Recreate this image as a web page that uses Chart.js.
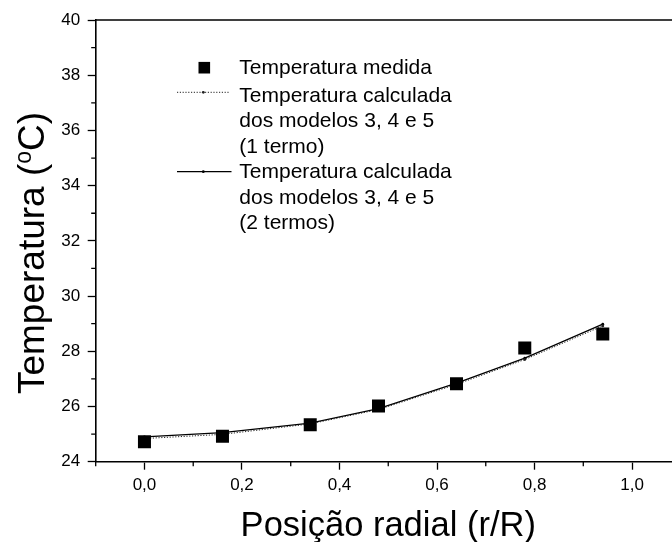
<!DOCTYPE html>
<html>
<head>
<meta charset="utf-8">
<script src="https://cdn.jsdelivr.net/npm/chart.js@4/dist/chart.umd.min.js"></script>
<style>
  html, body { margin: 0; padding: 0; overflow: hidden; background: #fff; width: 672px; height: 542px; }
  canvas { display: block; }
</style>
</head>
<body>
<canvas id="grafico" width="690" height="542"></canvas>
<script>
// Posição radial adimensional (r/R) e temperaturas (°C)
const posicao = [0, 0.16, 0.34, 0.48, 0.64, 0.78, 0.94];
const tempMedida = [24.72, 24.92, 25.34, 26.02, 26.82, 28.12, 28.63];
const tempCalc1Termo = [24.84, 24.99, 25.37, 25.89, 26.80, 27.70, 28.92];
const tempCalc2Termos = [24.90, 25.05, 25.40, 25.92, 26.85, 27.75, 28.98];

// Marcas dos eixos
const xTicksMaiores = [0, 0.2, 0.4, 0.6, 0.8, 1.0];
const xTicksMenores = [-0.1, 0.1, 0.3, 0.5, 0.7, 0.9, 1.1];
const xRotulos = ['0,0', '0,2', '0,4', '0,6', '0,8', '1,0'];
const yTicksMaiores = [24, 26, 28, 30, 32, 34, 36, 38, 40];
const yTicksMenores = [25, 27, 29, 31, 33, 35, 37, 39];
const yRotulos = ['24', '26', '28', '30', '32', '34', '36', '38', '40'];

// Textos da legenda
const legendaMedida = ['Temperatura medida'];
const legenda1Termo = ['Temperatura calculada', 'dos modelos 3, 4 e 5', '(1 termo)'];
const legenda2Termos = ['Temperatura calculada', 'dos modelos 3, 4 e 5', '(2 termos)'];

const FONTE = '"Liberation Sans", Arial, Helvetica, sans-serif';

const pares = ys => posicao.map((x, i) => ({ x: x, y: ys[i] }));

// Marcas menores, linha superior do quadro, títulos dos eixos e legenda
const decoracao = {
  id: 'decoracao',
  afterDraw(chart) {
    const ctx = chart.ctx;
    const area = chart.chartArea;
    const sx = chart.scales.x, sy = chart.scales.y;
    ctx.save();
    ctx.strokeStyle = '#000';

    // quadro superior e direito
    ctx.lineWidth = 1.6;
    ctx.beginPath();
    ctx.moveTo(area.left, area.top);
    ctx.lineTo(area.right, area.top);
    ctx.lineTo(area.right, area.bottom);
    ctx.stroke();

    // marcas menores
    ctx.lineWidth = 1.3;
    ctx.beginPath();
    xTicksMenores.forEach(v => {
      const px = sx.getPixelForValue(v);
      ctx.moveTo(px, area.bottom);
      ctx.lineTo(px, area.bottom + 4.5);
    });
    yTicksMenores.forEach(v => {
      const py = sy.getPixelForValue(v);
      ctx.moveTo(area.left, py);
      ctx.lineTo(area.left - 4.5, py);
    });
    ctx.stroke();

    // título do eixo x
    ctx.fillStyle = '#000';
    ctx.font = '34.5px ' + FONTE;
    ctx.textAlign = 'center';
    ctx.textBaseline = 'alphabetic';
    ctx.fillText('Posição radial (r/R)', (area.left + area.right) / 2, 535.5);

    // título do eixo y, com "o" sobrescrito
    const p1 = 'Temperatura (', sup = 'o', p2 = 'C)';
    ctx.font = '37px ' + FONTE;
    const w1 = ctx.measureText(p1).width, w3 = ctx.measureText(p2).width;
    ctx.font = '23px ' + FONTE;
    const w2 = ctx.measureText(sup).width;
    const total = w1 + w2 + w3;
    ctx.translate(43.5, 253);
    ctx.rotate(-Math.PI / 2);
    ctx.textAlign = 'left';
    let cx = -total / 2;
    ctx.font = '37px ' + FONTE;
    ctx.fillText(p1, cx, 0); cx += w1;
    ctx.font = '23px ' + FONTE;
    ctx.fillText(sup, cx, -13); cx += w2;
    ctx.font = '37px ' + FONTE;
    ctx.fillText(p2, cx, 0);
    ctx.restore();

    // legenda
    ctx.save();
    const ds = chart.data.datasets;
    ctx.fillStyle = '#000';
    ctx.fillRect(204.3 - 5.8, 67.7 - 5.8, 11.6, 11.6);

    const amostra = (d, y, x0, x1) => {
      ctx.strokeStyle = d.borderColor;
      ctx.lineWidth = d.borderWidth;
      ctx.setLineDash(d.borderDash || []);
      ctx.beginPath();
      ctx.moveTo(x0, y);
      ctx.lineTo(x1, y);
      ctx.stroke();
      ctx.setLineDash([]);
      ctx.fillStyle = d.pointBackgroundColor;
      ctx.beginPath();
      ctx.arc(203.3, y, d.pointRadius, 0, Math.PI * 2);
      ctx.fill();
    };
    amostra(ds[1], 92.3, 177, 229);
    amostra(ds[2], 171.7, 177, 231.5);

    ctx.fillStyle = '#000';
    ctx.font = '21px ' + FONTE;
    ctx.textAlign = 'left';
    ctx.textBaseline = 'alphabetic';
    const linhas = [
      [ds[0].label, [73.5]],
      [ds[1].label, [101.7, 127.2, 152.7]],
      [ds[2].label, [178.2, 203.7, 229.2]]
    ];
    linhas.forEach(([txt, ys]) => {
      txt.forEach((t, i) => ctx.fillText(t, 239.3, ys[i]));
    });
    ctx.restore();
  }
};

new Chart(document.getElementById('grafico'), {
  type: 'line',
  data: {
    datasets: [
      {
        label: legendaMedida,
        data: pares(tempMedida),
        showLine: false,
        pointStyle: 'rect',
        pointRadius: 9.2,
        pointBorderWidth: 0,
        pointBackgroundColor: '#000',
        pointBorderColor: '#000',
        borderColor: '#000',
        backgroundColor: '#000'
      },
      {
        label: legenda1Termo,
        data: pares(tempCalc1Termo),
        borderColor: '#222',
        borderWidth: 1,
        borderDash: [1.2, 1.6],
        pointRadius: 1.4,
        pointBorderWidth: 0,
        pointBackgroundColor: '#222',
        tension: 0,
        fill: false
      },
      {
        label: legenda2Termos,
        data: pares(tempCalc2Termos),
        borderColor: '#000',
        borderWidth: 1.3,
        pointRadius: 1.4,
        pointBorderWidth: 0,
        pointBackgroundColor: '#000',
        tension: 0,
        fill: false
      }
    ]
  },
  options: {
    responsive: false,
    animation: false,
    devicePixelRatio: 1,
    layout: { padding: { top: 20, right: 9.2, left: 0, bottom: 0 } },
    plugins: { legend: { display: false }, tooltip: { enabled: false } },
    scales: {
      x: {
        type: 'linear',
        min: -0.1,
        max: 1.1,
        afterBuildTicks: s => { s.ticks = xTicksMaiores.map(v => ({ value: v })); },
        afterFit: s => { s.height = 80.3; },
        ticks: {
          autoSkip: false,
          maxRotation: 0,
          padding: 5,
          color: '#000',
          font: { family: FONTE, size: 17 },
          callback: (v, i) => xRotulos[i]
        },
        grid: { drawOnChartArea: false, tickLength: 8, tickWidth: 1.3, tickColor: '#000' },
        border: { display: true, color: '#000', width: 1.6 }
      },
      y: {
        type: 'linear',
        min: 24,
        max: 40,
        afterBuildTicks: s => { s.ticks = yTicksMaiores.map(v => ({ value: v })); },
        afterFit: s => { s.width = 95.7; },
        ticks: {
          autoSkip: false,
          padding: 7.5,
          color: '#000',
          font: { family: FONTE, size: 17 },
          callback: (v, i) => yRotulos[i]
        },
        grid: { drawOnChartArea: false, tickLength: 8, tickWidth: 1.3, tickColor: '#000' },
        border: { display: true, color: '#000', width: 1.6 }
      }
    }
  },
  plugins: [decoracao]
});
</script>
</body>
</html>
